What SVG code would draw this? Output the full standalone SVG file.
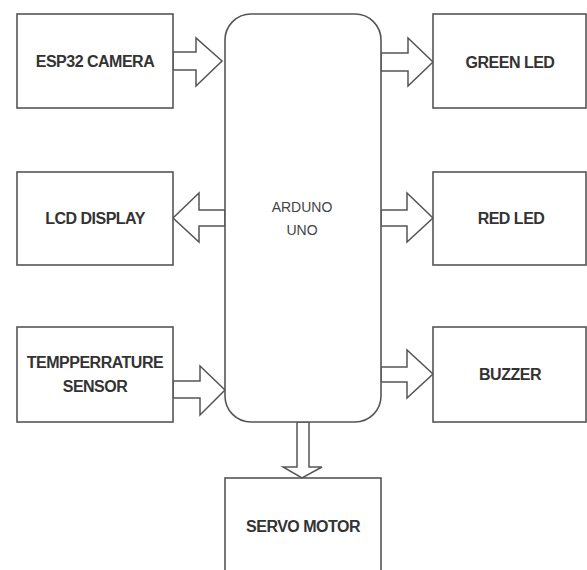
<svg xmlns="http://www.w3.org/2000/svg" width="587" height="570" viewBox="0 0 587 570">
<style>
.box{fill:#fff;stroke:#555;stroke-width:1.6}
.arr{fill:#fff;stroke:#555;stroke-width:1.5;stroke-linejoin:miter}
.lbl{font-family:"Liberation Sans",Arial,sans-serif;font-weight:bold;font-size:16px;letter-spacing:-0.5px;fill:#333;text-anchor:middle}
.main{font-family:"Liberation Sans",Arial,sans-serif;font-size:14px;fill:#444;text-anchor:middle}
</style>
<rect width="587" height="570" fill="#fff"/>
<g id="connectors">
<polygon class="arr" points="173,52 196,52 196,38 222,61 196,86 196,70 173,70"/>
<polygon class="arr" points="225,210 199,210 199,193 173,218 199,242 199,226 225,226"/>
<polygon class="arr" points="173,381 200,381 200,366 225,390 200,415 200,398 173,398"/>
<polygon class="arr" points="381,53 408,53 408,38 433,62 408,86 408,71 381,71"/>
<polygon class="arr" points="381,210 407,210 407,193 433,218 407,242 407,226 381,226"/>
<polygon class="arr" points="381,367 407,367 407,350 433,374 407,398 407,382 381,382"/>
<polygon class="arr" points="297,422 297,467 283,467 302,478 322,467 309,467 309,422"/>
</g>
<g id="arduino">
<rect class="box" x="225" y="14" width="156" height="408" rx="26" ry="26"/>
<text class="main" x="302" y="212">ARDUNO</text>
<text class="main" x="302" y="235">UNO</text>
</g>
<g id="esp32">
<rect class="box" x="17" y="14" width="156" height="94"/>
<text class="lbl" x="95" y="67">ESP32 CAMERA</text>
</g>
<g id="lcd">
<rect class="box" x="17" y="172" width="156" height="93"/>
<text class="lbl" x="95" y="224">LCD DISPLAY</text>
</g>
<g id="temp">
<rect class="box" x="17" y="327" width="156" height="95"/>
<text class="lbl" x="95" y="368">TEMPPERRATURE</text>
<text class="lbl" x="95" y="392">SENSOR</text>
</g>
<g id="green">
<rect class="box" x="433" y="14" width="153" height="94"/>
<text class="lbl" x="510" y="68">GREEN LED</text>
</g>
<g id="red">
<rect class="box" x="433" y="172" width="153" height="93"/>
<text class="lbl" x="511" y="224">RED LED</text>
</g>
<g id="buzzer">
<rect class="box" x="433" y="327" width="153" height="95"/>
<text class="lbl" x="510" y="380">BUZZER</text>
</g>
<g id="servo">
<rect class="box" x="225" y="478" width="156" height="100"/>
<text class="lbl" x="303" y="532">SERVO MOTOR</text>
</g>
</svg>
